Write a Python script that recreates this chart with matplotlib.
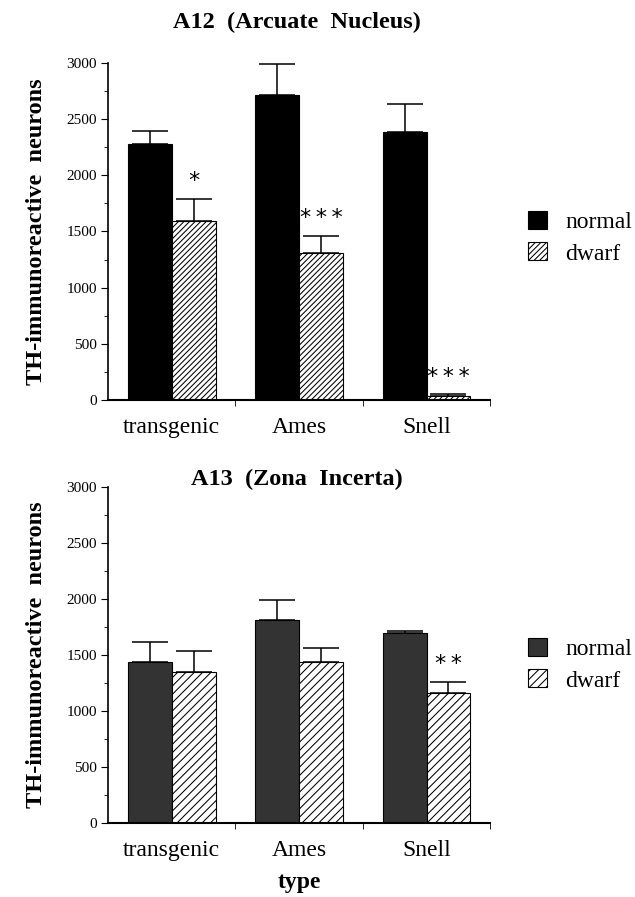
import numpy as np
import matplotlib
matplotlib.use("Agg")
import matplotlib.pyplot as plt

# ---- data ------------------------------------------------------------------
types = ["transgenic", "Ames", "Snell"]

a12_normal = [2275, 2710, 2385]
a12_normal_err = [120, 280, 250]
a12_dwarf = [1595, 1305, 40]
a12_dwarf_err = [195, 155, 10]
a12_stars = ["*", "***", "***"]

a13_normal = [1440, 1810, 1695]
a13_normal_err = [175, 185, 20]
a13_dwarf = [1345, 1435, 1160]
a13_dwarf_err = [190, 125, 100]
a13_stars = ["", "", "**"]

yticks = [0, 500, 1000, 1500, 2000, 2500, 3000]

plt.rcParams["font.family"] = ["Liberation Serif", "DejaVu Serif"]
plt.rcParams["hatch.linewidth"] = 0.75

fig = plt.figure(figsize=(6.35, 8.97), dpi=100)


def panel(rect, normal, nerr, dwarf, derr, stars, title, title_y,
          ncolor, dhatch, leg_y, xlabel=None):
    ax = fig.add_axes(rect)
    x = np.arange(len(types)) + 0.5
    w = 0.345
    ekw = dict(lw=1.1, capthick=1.1)
    ax.bar(x - w / 2, normal, w, color=ncolor, edgecolor="black", lw=0.8,
           yerr=[np.zeros(3), nerr], capsize=13, error_kw=ekw,
           label="normal", zorder=2)
    ax.bar(x + w / 2, dwarf, w, color="white", edgecolor="black", lw=0.8,
           hatch=dhatch, yerr=[np.zeros(3), derr], capsize=13, error_kw=ekw,
           label="dwarf", zorder=2)
    # significance stars above the dwarf error bars (spaced like the original)
    for xi, d, e, s in zip(x, dwarf, derr, stars):
        if s:
            ax.text(xi + w / 2, d + e + 70, "\u2009".join(s), ha="center",
                    va="bottom", fontsize=16, family="DejaVu Sans")

    ax.set_xlim(0, 3)
    ax.set_ylim(0, 3000)
    ax.set_xticks(x)
    ax.set_xticklabels(types, fontsize=17)
    ax.set_xticks([1, 2, 3], minor=True)
    ax.tick_params(axis="x", which="major", length=0, pad=12)
    ax.tick_params(axis="x", which="minor", length=4, direction="out")
    ax.set_yticks(yticks)
    ax.set_yticks(np.arange(0, 3001, 250), minor=True)
    ax.tick_params(axis="y", which="major", labelsize=11, length=5, pad=3)
    ax.tick_params(axis="y", which="minor", length=3)
    for side in ("top", "right"):
        ax.spines[side].set_visible(False)
    ax.spines["left"].set_linewidth(1.2)
    ax.spines["bottom"].set_linewidth(1.5)
    ax.set_ylabel("TH-immunoreactive  neurons", fontsize=17.5,
                  fontweight="bold", labelpad=14)
    if xlabel:
        ax.set_xlabel(xlabel, fontsize=17, fontweight="bold", labelpad=8)

    fig.text(0.468, title_y, title, ha="center", va="center",
             fontsize=17.5, fontweight="bold")
    ax.legend(loc="center left", bbox_to_anchor=(0.831, leg_y),
              bbox_transform=fig.transFigure, frameon=False, fontsize=17,
              handlelength=0.8, handleheight=0.8, handletextpad=0.8,
              labelspacing=0.4, borderpad=0, borderaxespad=0)
    return ax


panel([0.170, 0.554, 0.602, 0.376], a12_normal, a12_normal_err,
      a12_dwarf, a12_dwarf_err, a12_stars, "A12  (Arcuate  Nucleus)", 0.975,
      "black", "//////", 0.735)

panel([0.170, 0.0825, 0.602, 0.3745], a13_normal, a13_normal_err,
      a13_dwarf, a13_dwarf_err, a13_stars, "A13  (Zona  Incerta)", 0.465,
      "#333333", "////", 0.259, xlabel="type")

fig.savefig("out.png", dpi=100)
